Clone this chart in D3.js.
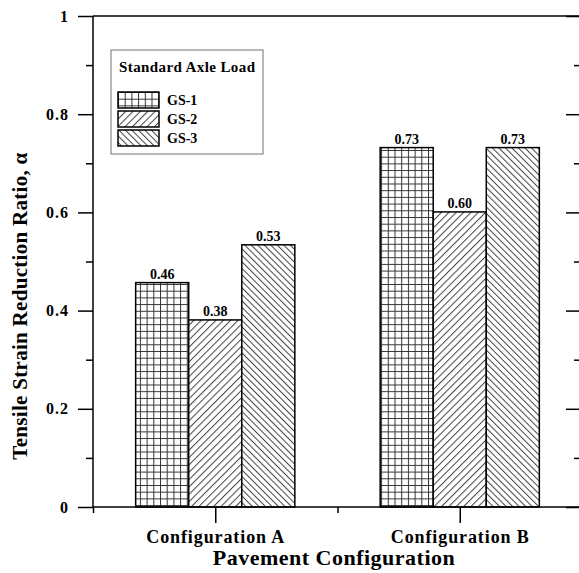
<!DOCTYPE html>
<html>
<head>
<meta charset="utf-8">
<script src="https://cdn.jsdelivr.net/npm/d3@7"></script>
<style>
  body { margin: 0; background: #fff; }
  svg { display: block; font-family: "Liberation Serif", "Times New Roman", serif; font-weight: bold; }
</style>
</head>
<body>
<svg id="drawing_region"></svg>
<script>
// data
const categories = [ 'Configuration A', 'Configuration B' ];
const series = [ 'GS-1', 'GS-2', 'GS-3' ];
const gs1 = [ 0.457, 0.732 ];
const gs2 = [ 0.381, 0.601 ];
const gs3 = [ 0.534, 0.732 ];
const y_ticks = [ 0, 0.2, 0.4, 0.6, 0.8, 1 ];
const y_tick_labels = [ '0', '0.2', '0.4', '0.6', '0.8', '1' ];
const legend_title = 'Standard Axle Load';

const config = {
    width: 579,
    height: 573,
    margin: { top:16, right:-3, bottom:66, left:93 }
};

const svg = d3.select( '#drawing_region' )
    .attr( 'width', config.width )
    .attr( 'height', config.height );

const inner_width = config.width - config.margin.left - config.margin.right;
const inner_height = config.height - config.margin.top - config.margin.bottom;

// patterns
const defs = svg.append( 'defs' );
const grid = defs.append( 'pattern' )
    .attr( 'id', 'pat0' ).attr( 'patternUnits', 'userSpaceOnUse' )
    .attr( 'width', 6.7 ).attr( 'height', 6.7 );
grid.append( 'rect' ).attr( 'width', 6.7 ).attr( 'height', 6.7 ).attr( 'fill', '#fff' );
grid.append( 'path' ).attr( 'd', 'M0.5,0V6.7M0,0.5H6.7' )
    .attr( 'stroke', '#333' ).attr( 'stroke-width', 1 );

const fwd = defs.append( 'pattern' )
    .attr( 'id', 'pat1' ).attr( 'patternUnits', 'userSpaceOnUse' )
    .attr( 'width', 5.2 ).attr( 'height', 10 )
    .attr( 'patternTransform', 'rotate(45)' );
fwd.append( 'rect' ).attr( 'width', 5.2 ).attr( 'height', 10 ).attr( 'fill', '#fff' );
fwd.append( 'line' ).attr( 'x1', 0.5 ).attr( 'x2', 0.5 ).attr( 'y1', 0 ).attr( 'y2', 10 )
    .attr( 'stroke', '#444' ).attr( 'stroke-width', 1 );

const back = defs.append( 'pattern' )
    .attr( 'id', 'pat2' ).attr( 'patternUnits', 'userSpaceOnUse' )
    .attr( 'width', 4.6 ).attr( 'height', 10 )
    .attr( 'patternTransform', 'rotate(-45)' );
back.append( 'rect' ).attr( 'width', 4.6 ).attr( 'height', 10 ).attr( 'fill', '#fff' );
back.append( 'line' ).attr( 'x1', 0.5 ).attr( 'x2', 0.5 ).attr( 'y1', 0 ).attr( 'y2', 10 )
    .attr( 'stroke', '#444' ).attr( 'stroke-width', 1 );

const chart = svg.append( 'g' )
    .attr( 'transform', `translate(${config.margin.left}, ${config.margin.top})` );

const xscale = d3.scaleLinear()
    .domain( [ 0.5, 2.5 ] )
    .range( [ 0, inner_width ] );

const yscale = d3.scaleLinear()
    .domain( [ 0, 1 ] )
    .range( [ inner_height, 0 ] );

// bars
const bar_w = 0.217;
const data = [];
categories.forEach( ( c, i ) => {
    [ gs1, gs2, gs3 ].forEach( ( s, j ) => {
        data.push( { pos: i + 1 + ( j - 1.5 ) * bar_w, value: s[i], k: j } );
    } );
} );

chart.selectAll( '.bar' )
    .data( data )
    .join( 'rect' )
    .attr( 'class', 'bar' )
    .attr( 'x', d => xscale( d.pos ) )
    .attr( 'y', d => yscale( d.value ) )
    .attr( 'width', xscale( 0.5 + bar_w ) )
    .attr( 'height', d => inner_height - yscale( d.value ) )
    .attr( 'fill', d => `url(#pat${d.k})` )
    .attr( 'stroke', '#000' )
    .attr( 'stroke-width', 1.5 );

chart.selectAll( '.vlabel' )
    .data( data )
    .join( 'text' )
    .attr( 'class', 'vlabel' )
    .attr( 'x', d => xscale( d.pos + bar_w / 2 ) )
    .attr( 'y', d => yscale( d.value ) - 3.5 )
    .attr( 'text-anchor', 'middle' )
    .attr( 'font-size', 14 )
    .text( d => d3.format( '.2f' )( d.value ) );

// axes
const minor_y = d3.range( 0.1, 1, 0.2 );

const left = chart.append( 'g' )
    .call( d3.axisLeft( yscale ).tickValues( y_ticks ).tickSize( 15 ).tickPadding( 9 )
        .tickFormat( ( d, i ) => y_tick_labels[i] ) );
left.append( 'g' )
    .call( d3.axisLeft( yscale ).tickValues( minor_y ).tickSize( 7 ).tickFormat( '' ) );

const right = chart.append( 'g' )
    .attr( 'transform', `translate(${inner_width}, 0)` );
right.call( d3.axisRight( yscale ).tickValues( y_ticks ).tickSize( -16 ).tickFormat( '' ) );
right.append( 'g' )
    .call( d3.axisRight( yscale ).tickValues( minor_y ).tickSize( -8 ).tickFormat( '' ) );

const bottom = chart.append( 'g' )
    .attr( 'transform', `translate(0, ${inner_height})` );
bottom.call( d3.axisBottom( xscale ).tickValues( [ 1, 2 ] ).tickSize( 16 ).tickPadding( 7 )
    .tickFormat( ( d, i ) => categories[i] ) );
bottom.append( 'g' )
    .call( d3.axisBottom( xscale ).tickValues( [ 0.5, 1.5, 2.5 ] ).tickSize( 6 ).tickFormat( '' ) );

[ left, right, bottom ].forEach( g => g.attr( 'font-family', null ).attr( 'font-size', null ) );
chart.selectAll( '.domain' ).remove();
chart.selectAll( '.tick line' ).attr( 'stroke-width', 1.5 );
left.selectAll( '.tick text' ).attr( 'font-size', 16 ).attr( 'letter-spacing', 1 );
bottom.selectAll( '.tick text' ).attr( 'font-size', 18 ).attr( 'letter-spacing', 0.9 );

// frame
const frame = [
    [ 0, 0, inner_width, 0 ],
    [ 0, 0, 0, inner_height ],
    [ inner_width, 0, inner_width, inner_height ],
    [ 0, inner_height, inner_width, inner_height ]
];
chart.selectAll( '.frame' )
    .data( frame )
    .join( 'line' )
    .attr( 'class', 'frame' )
    .attr( 'x1', d => d[0] ).attr( 'y1', d => d[1] )
    .attr( 'x2', d => d[2] ).attr( 'y2', d => d[3] )
    .attr( 'stroke', '#000' ).attr( 'stroke-width', 1.5 );

// axis titles
svg.append( 'text' )
    .attr( 'transform', 'translate(27, 306) rotate(-90)' )
    .attr( 'text-anchor', 'middle' )
    .attr( 'font-size', 21 )
    .attr( 'letter-spacing', 0.3 )
    .text( 'Tensile Strain Reduction Ratio, \u03b1' );

svg.append( 'text' )
    .attr( 'x', 334 )
    .attr( 'y', 565 )
    .attr( 'text-anchor', 'middle' )
    .attr( 'font-size', 22 )
    .attr( 'letter-spacing', 0.5 )
    .text( 'Pavement Configuration' );

// legend
const legend = svg.append( 'g' ).attr( 'transform', 'translate(111, 50)' );
legend.append( 'rect' )
    .attr( 'width', 152 ).attr( 'height', 104 )
    .attr( 'fill', '#fff' ).attr( 'stroke', '#888' ).attr( 'stroke-width', 1.2 );
legend.append( 'text' )
    .attr( 'x', 8 ).attr( 'y', 22 )
    .attr( 'font-size', 15 )
    .attr( 'letter-spacing', 0.4 )
    .text( legend_title );
const items = legend.selectAll( '.item' )
    .data( series )
    .join( 'g' )
    .attr( 'class', 'item' )
    .attr( 'transform', ( d, i ) => `translate(7, ${42 + i * 19})` );
items.append( 'rect' )
    .attr( 'width', 41 ).attr( 'height', 16 )
    .attr( 'fill', ( d, i ) => `url(#pat${i})` )
    .attr( 'stroke', '#000' ).attr( 'stroke-width', 1.5 );
items.append( 'text' )
    .attr( 'x', 49 ).attr( 'y', 13 )
    .attr( 'font-size', 14 )
    .text( d => d );
</script>
</body>
</html>
